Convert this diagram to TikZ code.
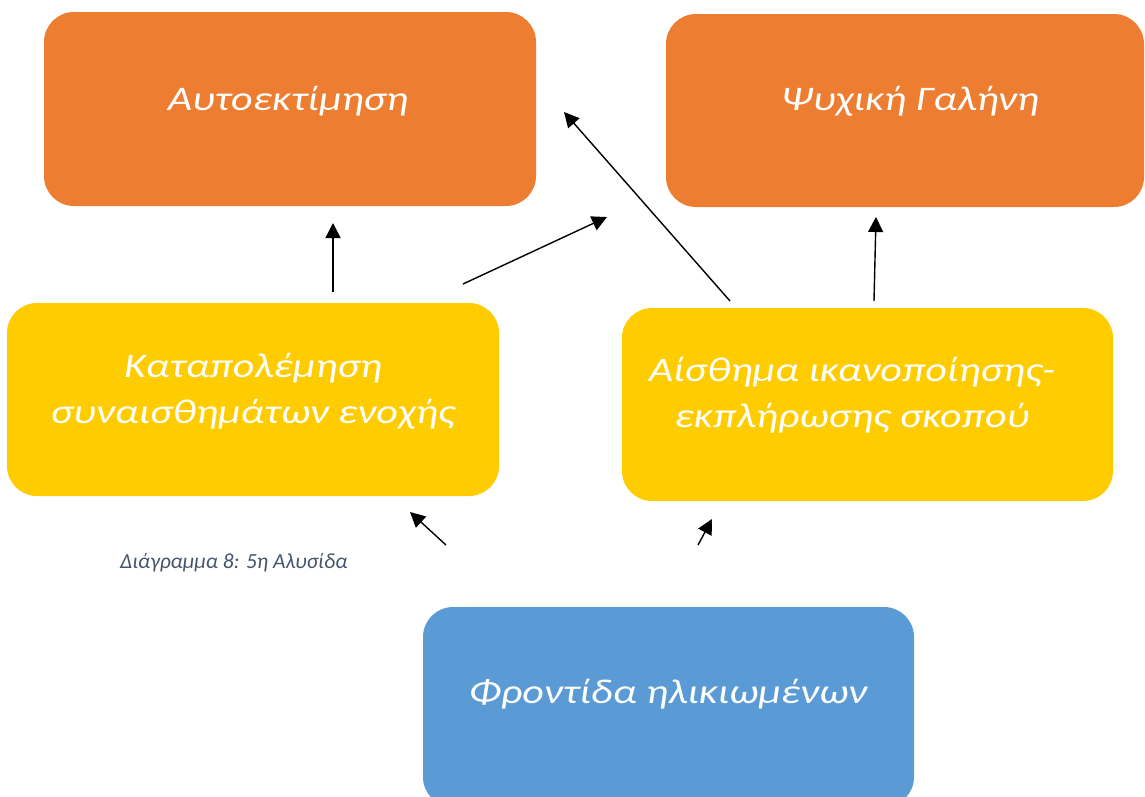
\documentclass[tikz,border=0pt]{standalone}
\usepackage{fontspec}
\setmainfont{Carlito}
\newfontfamily\boxfont[FakeStretch=1.22]{Carlito}
\usetikzlibrary{arrows.meta}
\definecolor{orangeA}{HTML}{ED7D31}
\definecolor{yellowB}{HTML}{FFCC00}
\definecolor{blueC}{HTML}{5B9BD5}
\definecolor{capcol}{HTML}{44546A}
\tikzset{
  box/.style={rounded corners=30pt, inner sep=0pt},
  boxtext/.style={text=white, font=\boxfont\itshape\fontsize{34.5}{46}\selectfont, align=center, inner sep=0pt},
  arr/.style={line width=1.4pt, -{Triangle[length=15pt,width=15pt]}},
}
\begin{document}
\begin{tikzpicture}[x=1pt,y=-1pt]
\useasboundingbox (0,0) rectangle (1145,796);
% boxes
\node[box, fill=orangeA, minimum width=492pt, minimum height=194pt] (A) at (290,109) {};
\node[box, fill=orangeA, minimum width=478pt, minimum height=193pt] (B) at (905,110.5) {};
\node[box, fill=yellowB, minimum width=492pt, minimum height=193pt] (C) at (253,399.5) {};
\node[box, fill=yellowB, minimum width=491pt, minimum height=193pt] (D) at (867.5,404.5) {};
\node[box, fill=blueC, minimum width=491pt, minimum height=200pt] (E) at (668.5,707) {};
% texts
\node[boxtext] (tA) at (288,101) {Αυτοεκτίμηση};
\node[boxtext] (tB) at (910,101) {Ψυχική Γαλήνη};
\node[boxtext] (tC) at (253,391) {Καταπολέμηση\\συναισθημάτων ενοχής};
\node[boxtext] (tD) at (852,395) {Αίσθημα ικανοποίησης-\\εκπλήρωσης σκοπού};
\node[boxtext] (tE) at (668,694) {Φροντίδα ηλικιωμένων};
% caption
\node[anchor=west, text=capcol, font=\itshape\fontsize{21.5}{24}\selectfont, inner sep=0pt] (cap) at (120,563) {Διάγραμμα 8: 5η Αλυσίδα};
% arrow endpoints
\coordinate (a1s) at (333,292); \coordinate (a1e) at (333,223);
\coordinate (a2s) at (463,284); \coordinate (a2e) at (607,217);
\coordinate (a3s) at (730,301); \coordinate (a3e) at (564,112);
\coordinate (a4s) at (874,301); \coordinate (a4e) at (876,217);
\coordinate (a5s) at (446,545); \coordinate (a5e) at (410,512);
\coordinate (a6s) at (698,545); \coordinate (a6e) at (712,519);
\draw[arr] (a1s) -- (a1e);
\draw[arr] (a2s) -- (a2e);
\draw[arr] (a3s) -- (a3e);
\draw[arr] (a4s) -- (a4e);
\draw[arr] (a5s) -- (a5e);
\draw[arr] (a6s) -- (a6e);
\end{tikzpicture}
\end{document}
